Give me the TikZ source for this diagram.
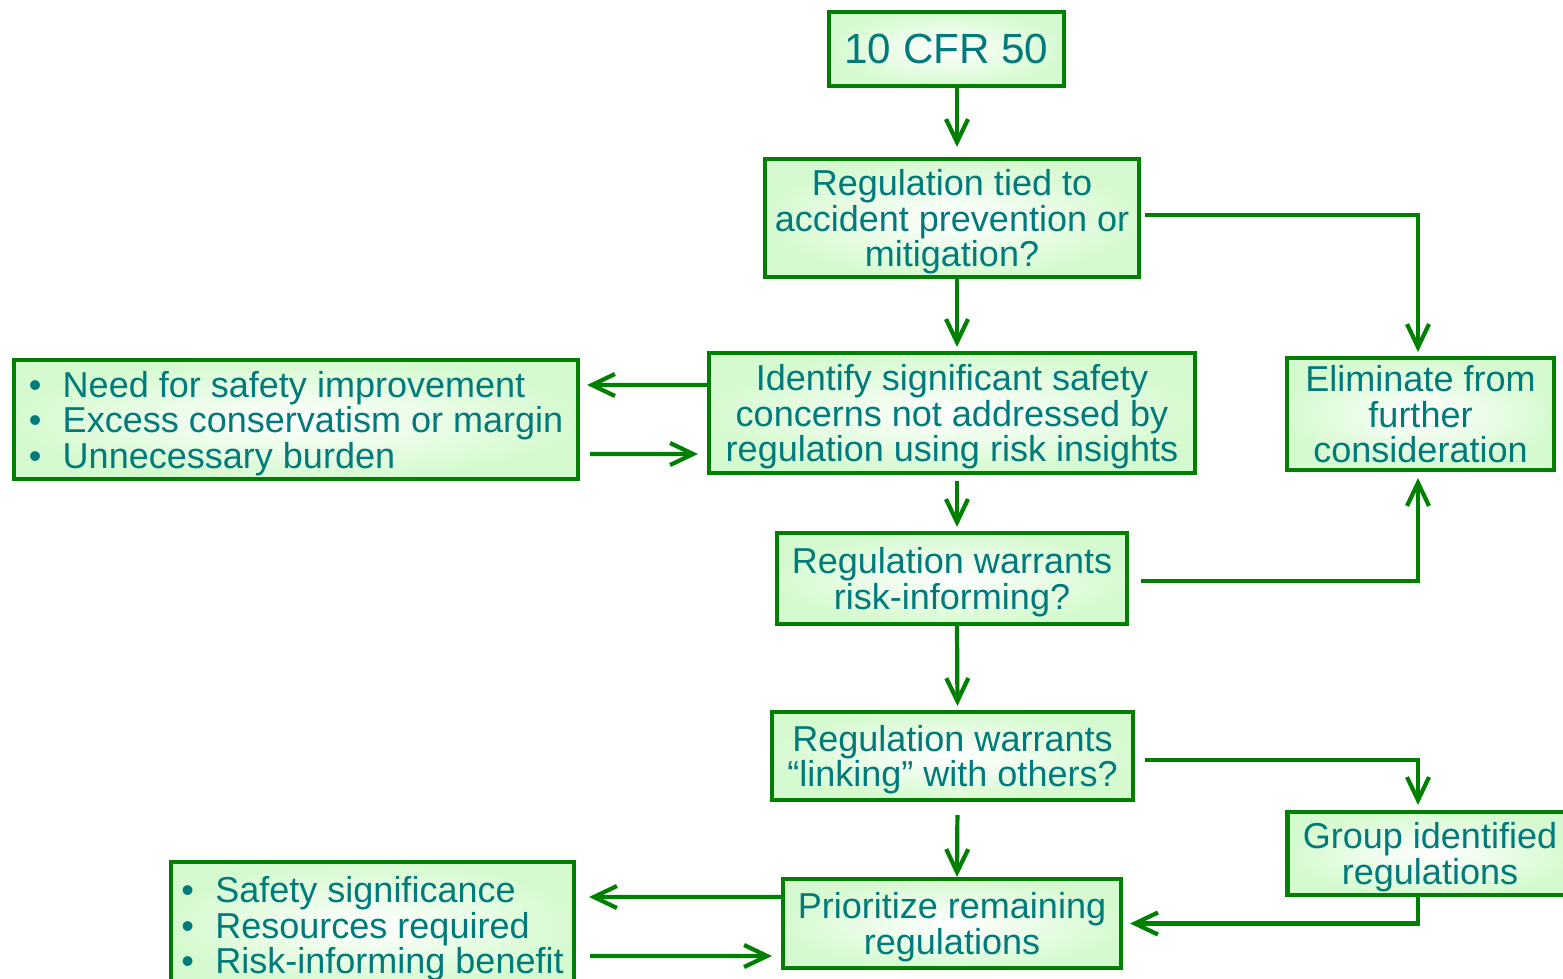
\documentclass[tikz,border=0pt]{standalone}
\usepackage{fontspec}
\setmainfont{Liberation Sans}
\usetikzlibrary{arrows.meta,positioning,calc}
\definecolor{boxgreen}{RGB}{0,128,0}
\definecolor{boxfill}{RGB}{214,250,208}
\definecolor{txtteal}{RGB}{0,122,122}
\newcommand{\itm}{\makebox[0.68cm][l]{\textbullet}}

\begin{document}
\begin{tikzpicture}[
  font=\fontsize{20.5}{20.2}\selectfont,
  box/.style={draw=boxgreen, line width=2.3pt, inner color=white, outer color=boxfill,
              text=txtteal, align=center, inner sep=0pt, text depth=0pt},
  listbox/.style={box, align=left},
  arr/.style={-{Straight Barb[length=4.6mm, width=4.4mm, line join=miter]}, line width=2.4pt, draw=boxgreen}
]
\useasboundingbox (0,0) rectangle (31.26,-19.56);

% ---------- Main column ----------
\node[box, minimum width=4.7cm, minimum height=1.48cm, font=\fontsize{24}{28}\selectfont]
  (cfr) at (18.93,-0.98) {10 CFR 50};
\node[box, minimum width=7.48cm, minimum height=2.36cm] (tied) at (19.04,-4.36)
  {Regulation tied to\\ accident prevention or\\ mitigation?};
\node[box, minimum width=9.72cm, minimum height=2.40cm] (ident) at (19.04,-8.26)
  {Identify significant safety\\ concerns not addressed by\\ regulation using risk insights};
\node[box, minimum width=7.0cm, minimum height=1.82cm] (warr) at (19.04,-11.57)
  {Regulation warrants\\ risk-informing?};
\node[box, minimum width=7.22cm, minimum height=1.76cm] (link) at (19.05,-15.12)
  {Regulation warrants\\ “linking” with others?};
\node[box, minimum width=6.76cm, minimum height=1.78cm] (prio) at (19.04,-18.47)
  {Prioritize remaining\\ regulations};

% ---------- Side boxes ----------
\node[listbox, minimum width=11.28cm, minimum height=2.38cm] (need) at (5.92,-8.39)
  {\itm Need for safety improvement\\ \itm Excess conservatism or margin\\ \itm Unnecessary burden};
\node[listbox, minimum width=8.06cm, minimum height=2.52cm] (crit) at (7.45,-18.5)
  {\itm Safety significance\\ \itm Resources required\\ \itm Risk-informing benefit};
\node[box, minimum width=5.34cm, minimum height=2.24cm] (elim) at (28.41,-8.28)
  {Eliminate from\\ further\\ consideration};
\node[box, minimum width=5.7cm, minimum height=1.66cm] (group) at (28.6,-17.07)
  {Group identified\\ regulations};

% ---------- Downward flow ----------
\draw[arr, shorten >=0.2cm] ([xshift=1mm]tied.north |- cfr.south) -- ([xshift=1mm]tied.north);
\draw[arr, shorten >=0.08cm] ([xshift=1mm]tied.south) -- ([xshift=1mm]ident.north);
\draw[arr, shorten <=0.12cm, shorten >=0.08cm] ([xshift=1mm]ident.south) -- ([xshift=1mm]warr.north);
\draw[arr, shorten >=0.08cm] ([xshift=1mm]warr.south) -- ([xshift=1mm]link.north);
\draw[arr, shorten <=0.26cm] ([xshift=1mm]link.south) -- ([xshift=1mm]prio.north);

% ---------- Right branches ----------
\draw[arr, shorten <=0.08cm, shorten >=0.08cm] ([yshift=0.06cm]tied.east) -| ([xshift=-0.05cm]elim.north);
\draw[arr, shorten <=0.24cm, shorten >=0.12cm] ([yshift=-0.05cm]warr.east) -| ([xshift=-0.05cm]elim.south);
\draw[arr, shorten <=0.2cm, shorten >=0.1cm] ([yshift=-0.08cm]link.east) -| ([xshift=-0.24cm]group.north);
\draw[arr, shorten >=0.14cm] ([xshift=-0.24cm]group.south) |- (prio.east);

% ---------- Left loops ----------
\draw[arr, shorten >=0.14cm] ([yshift=0.56cm]ident.west) -- ($(ident.west -| need.east)+(0,0.56)$);
\draw[arr, shorten <=0.2cm, shorten >=0.18cm] ($(ident.west -| need.east)+(0,-0.82)$) -- ([yshift=-0.82cm]ident.west);
\draw[arr, shorten >=0.26cm] ([yshift=0.53cm]prio.west) -- ($(prio.west -| crit.east)+(0,0.53)$);
\draw[arr, shorten <=0.28cm, shorten >=0.18cm] ($(prio.west -| crit.east)+(0,-0.65)$) -- ([yshift=-0.65cm]prio.west);
\end{tikzpicture}
\end{document}
